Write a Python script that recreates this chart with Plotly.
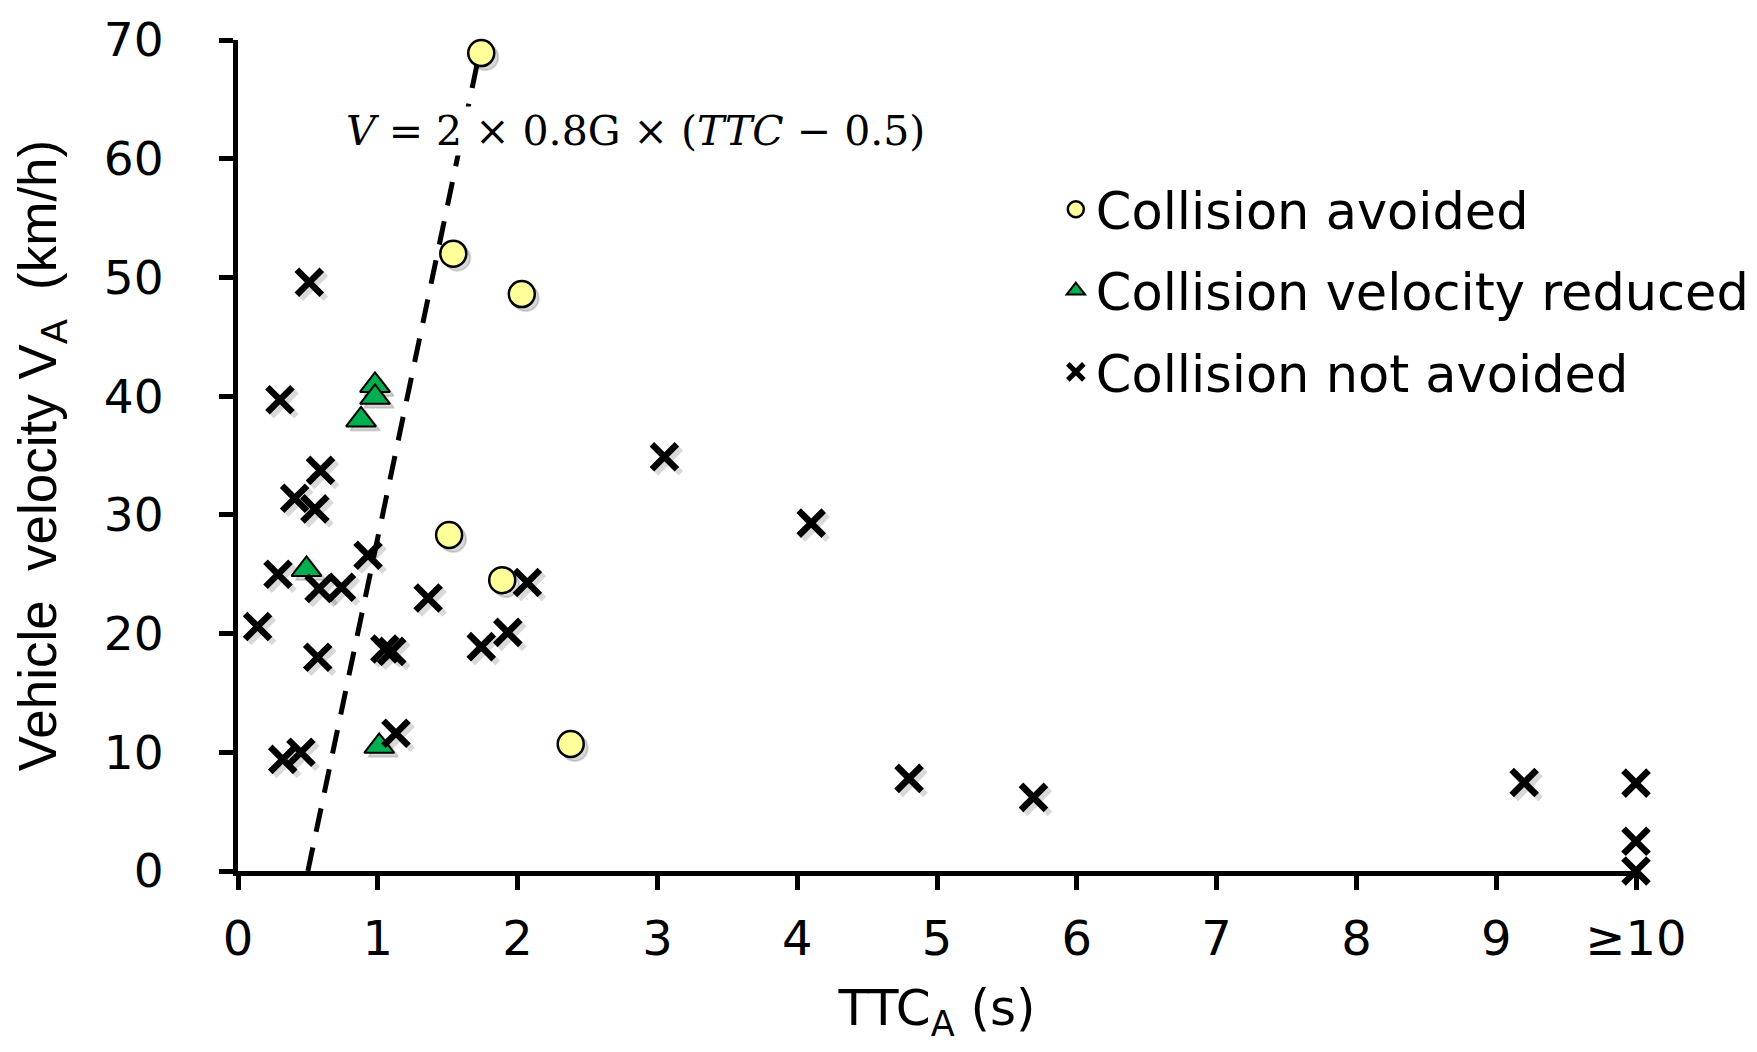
import plotly.graph_objects as go

# ---- data ----
avoided_ttc = [1.74, 1.54, 2.03, 1.51, 1.89, 2.38]
avoided_v = [68.9, 52.0, 48.6, 28.3, 24.5, 10.7]

reduced_ttc = [0.98, 0.98, 0.88, 0.49, 1.01]
reduced_v = [40.9, 39.9, 38.0, 25.4, 10.5]

notavoid_ttc = [0.51, 0.30, 0.59, 0.405, 0.55, 0.286, 0.58, 0.74, 0.93, 0.14,
                0.57, 1.05, 1.10, 1.36, 1.74, 1.93, 2.07, 1.13, 0.32, 0.45,
                3.05, 4.10, 4.80, 5.69, 9.20, 10.0, 10.0, 10.0]
notavoid_v = [49.6, 39.7, 33.75, 31.4, 30.5, 25.0, 23.8, 23.9, 26.6, 20.6,
              18.0, 18.7, 18.5, 23.0, 18.9, 20.1, 24.3, 11.6, 9.4, 10.0,
              34.9, 29.3, 7.8, 6.2, 7.45, 7.4, 2.5, 0.0]

line_ttc = [0.5, 1.72]
line_v = [0.0, 68.5]

x_tickvals = [0, 1, 2, 3, 4, 5, 6, 7, 8, 9, 10]
x_ticktext = ["0", "1", "2", "3", "4", "5", "6", "7", "8", "9", "≥10"]
y_tickvals = [0, 10, 20, 30, 40, 50, 60, 70]

# ---- layout geometry (page body adds an 8px margin) ----
PAGE = 8
W, H = 1757 - 2 * PAGE, 1052 - 2 * PAGE
ML, MR, MT, MB = 238 - PAGE, 121 - PAGE, 40 - PAGE, 181 - PAGE
X_RANGE = [0, 10]
Y_RANGE = [0, 70]
px_per_x = (W - ML - MR) / (X_RANGE[1] - X_RANGE[0])
px_per_y = (H - MT - MB) / (Y_RANGE[1] - Y_RANGE[0])
SH = 4  # shadow offset in pixels


def shadow(xs, ys):
    return ([v + SH / px_per_x for v in xs], [v - SH / px_per_y for v in ys])


CIRC_SIZE, TRI_SIZE, X_SIZE = 26, 26, 25

fig = go.Figure()

shadow_col = "rgba(0,0,0,0.15)"
sx, sy = shadow(reduced_ttc, reduced_v)
fig.add_trace(go.Scatter(x=sx, y=sy, mode="markers", showlegend=False, hoverinfo="skip",
                         cliponaxis=False,
                         marker=dict(symbol="triangle-up", size=TRI_SIZE, color=shadow_col,
                                     line=dict(width=2, color=shadow_col))))
sx, sy = shadow(avoided_ttc, avoided_v)
fig.add_trace(go.Scatter(x=sx, y=sy, mode="markers", showlegend=False, hoverinfo="skip",
                         cliponaxis=False,
                         marker=dict(symbol="circle", size=CIRC_SIZE, color=shadow_col,
                                     line=dict(width=2, color=shadow_col))))
sx, sy = shadow(notavoid_ttc, notavoid_v)
fig.add_trace(go.Scatter(x=sx, y=sy, mode="markers", showlegend=False, hoverinfo="skip",
                         cliponaxis=False,
                         marker=dict(symbol="x-thin", size=X_SIZE, color=shadow_col,
                                     line=dict(width=6.5, color=shadow_col))))

# dashed boundary line
fig.add_trace(go.Scatter(x=line_ttc, y=line_v, mode="lines", showlegend=False,
                         hoverinfo="skip",
                         line=dict(color="black", width=5, dash="24px,16px")))

fig.add_trace(go.Scatter(x=reduced_ttc, y=reduced_v, mode="markers",
                         name="Collision velocity reduced", legendgroup="b", legendrank=2,
                         cliponaxis=False,
                         marker=dict(symbol="triangle-up", size=TRI_SIZE, color="#00B050",
                                     line=dict(width=2, color="black"))))
fig.add_trace(go.Scatter(x=avoided_ttc, y=avoided_v, mode="markers",
                         name="Collision avoided", legendgroup="a", legendrank=1,
                         cliponaxis=False,
                         marker=dict(symbol="circle", size=CIRC_SIZE, color="#FFFF99",
                                     line=dict(width=2.5, color="black"))))
fig.add_trace(go.Scatter(x=notavoid_ttc, y=notavoid_v, mode="markers",
                         name="Collision not avoided", legendgroup="c", legendrank=3,
                         cliponaxis=False,
                         marker=dict(symbol="x-thin", size=X_SIZE, color="black",
                                     line=dict(width=6.5, color="black"))))

fig.add_annotation(x=2.84, y=62.3, xref="x", yref="y",
                   text="<i>V</i> = 2 × 0.8G × (<i>TTC</i> − 0.5)",
                   showarrow=False, xanchor="center", yanchor="middle",
                   bgcolor="white", borderpad=0,
                   font=dict(family="DejaVu Serif", size=41, color="black"))

axis_common = dict(showline=True, linewidth=5, linecolor="black", mirror=False,
                   ticks="outside", ticklen=14, tickwidth=5, tickcolor="black",
                   showgrid=False, zeroline=False)

fig.update_layout(
    width=W, height=H,
    margin=dict(l=ML, r=MR, t=MT, b=MB, autoexpand=False),
    paper_bgcolor="white", plot_bgcolor="white",
    xaxis=dict(range=X_RANGE, tickvals=x_tickvals, ticktext=x_ticktext,
               ticklabelstandoff=7,
               tickfont=dict(family="DejaVu Sans", size=48, color="black"),
               title=dict(text="TTC<sub>A</sub> (s)", standoff=54,
                          font=dict(family="DejaVu Sans", size=50, color="black")),
               **axis_common),
    yaxis=dict(range=Y_RANGE, tickvals=y_tickvals, ticklabelstandoff=46,
               tickfont=dict(family="DejaVu Sans", size=47, color="black"),
               title=dict(text="\u00a0\u00a0\u00a0\u00a0Vehicle\u00a0\u00a0velocity V<sub>A</sub>\u00a0\u00a0(km/h)",
                          standoff=44,
                          font=dict(family="Liberation Sans", size=53, color="black")),
               **axis_common),
    legend=dict(x=0.585, y=0.844, xanchor="left", yanchor="top",
                traceorder="grouped", tracegroupgap=12,
                bgcolor="rgba(0,0,0,0)",
                font=dict(family="DejaVu Sans", size=51, color="black")),
)

fig.write_html("out.html")
